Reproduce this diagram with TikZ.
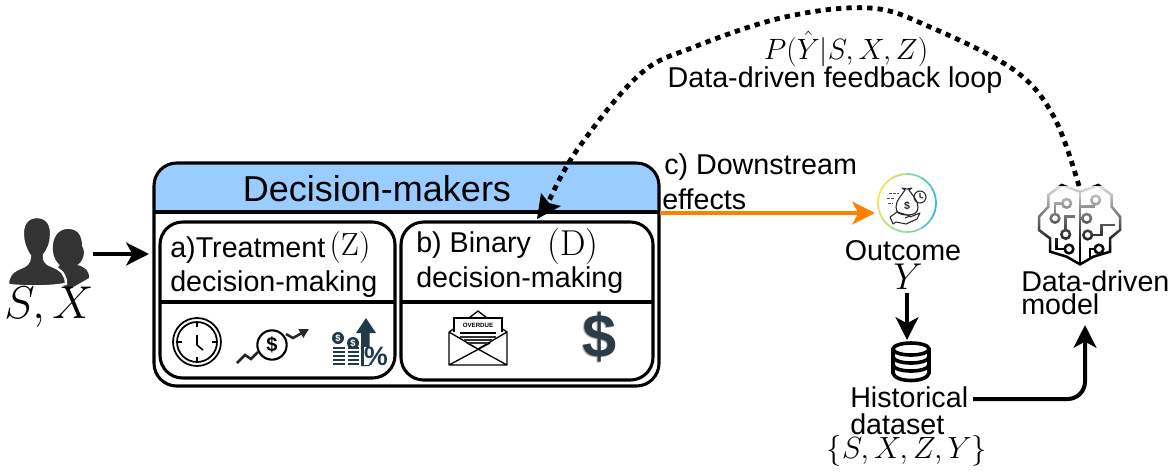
\RequirePackage{fix-cm}
\documentclass[tikz,border=0pt]{standalone}
\usepackage{fontspec}
\setmainfont{Liberation Sans}
\newfontfamily\lmrm{Latin Modern Roman}
\usetikzlibrary{arrows.meta}
\definecolor{hdr}{HTML}{99CCFF}
\definecolor{orng}{HTML}{FF8000}
\definecolor{sil}{HTML}{333333}
\definecolor{navy}{HTML}{1F3A4A}
\definecolor{dol}{HTML}{2B3C48}
\tikzset{
 x=0.75pt,y=-0.75pt,
 lbl/.style={font=\fontsize{21.5}{25}\selectfont,inner sep=0pt,text=black},
 lbll/.style={lbl,anchor=west},
 mth/.style={font=\fontsize{22}{25}\selectfont,inner sep=0pt},
 frame/.style={draw=black,line width=2.3pt,rounded corners=17pt,outer sep=0pt},
 conn/.style={draw=black,line width=3pt,-{Stealth[length=17pt,width=17pt,inset=4.5pt]}},
 icon/.style={draw=black,line width=1.2pt,line join=round},
 brainline/.style={draw=black,line width=1.9pt,line join=miter},
}
\begin{document}
\begin{tikzpicture}
\useasboundingbox (0,0) rectangle (1173,472);
% outer box
\fill[hdr,rounded corners=17pt] (154,230) -- (154,163) -- (659,163) -- (659,230) -- cycle;
\fill[white] (150,212) rectangle (663,235);
\node[frame,minimum width=378.75pt,minimum height=167.25pt,inner sep=0pt,anchor=north west] (main) at (154,163) {};
\draw[black,line width=2.3pt] (main.west |- 0,212) -- (main.east |- 0,212);
\node[lbl,font=\fontsize{27}{31}\selectfont] (title) at (377,189) {Decision-makers};
% inner boxes
\node[frame,minimum width=176.25pt,minimum height=117pt,inner sep=0pt,anchor=north west] (boxa) at (160,222) {};
\node[frame,minimum width=189pt,minimum height=118.5pt,inner sep=0pt,anchor=north west] (boxb) at (401,222) {};
\draw[black,line width=2.3pt] (boxa.west |- 0,302) -- (boxa.east |- 0,302);
\draw[black,line width=2.3pt] (boxb.west |- 0,302) -- (boxb.east |- 0,302);
\node[lbll] (ta1) at (170,250) {a)Treatment};
\node[inner sep=0pt,font=\lmrm\fontsize{24}{28}\selectfont] (tz) at (350,248) {(Z)};
\node[lbll] (ta2) at (170,284) {decision-making};
\node[lbll] (tb1) at (416,245) {b) Binary};
\node[inner sep=0pt,font=\lmrm\fontsize{27}{30}\selectfont] (td) at (573,247) {(D)};
\node[lbll] (tb2) at (416,280) {decision-making};
% people
\fill[sil] (68,229) .. controls (58,229) and (52,238) .. (53,250) .. controls (53,256) and (56,262) .. (60,265)
  .. controls (58,269) and (54,270) .. (50,272) -- (68,290) -- (89,278) .. controls (89,270) and (85,267) .. (77,265)
  .. controls (83,262) and (86,252) .. (82,246) .. controls (82,236) and (78,229) .. (68,229) -- cycle;
\fill[sil,draw=white,line width=1.8pt] (37,217) .. controls (26,217) and (22,226) .. (23,236) .. controls (23,243) and (27,252) .. (30,256)
  .. controls (30,263) and (26,266) .. (20,268) .. controls (11,272) and (8,276) .. (8,285) .. controls (25,287) and (50,287) .. (66,284)
  .. controls (66,275) and (62,270) .. (52,266) .. controls (46,264) and (43,260) .. (44,255)
  .. controls (48,250) and (51,243) .. (51,236) .. controls (52,226) and (48,217) .. (37,217) -- cycle;
\node[mth,font=\fontsize{34.5}{40}\selectfont] (sx) at (49,307) {$S,X$};
\coordinate (pa) at (93,254);
\coordinate (pb) at (149,254);
\draw[conn] (pa) -- (pb);
% clock
\node[circle,draw=black,line width=1.3pt,minimum size=36pt,inner sep=0pt] (clock) at (197,342) {};
\node[circle,draw=black,line width=1.3pt,minimum size=30pt,inner sep=0pt] (clocki) at (197,342) {};
\draw[icon] (197,335) -- (197,345) -- (203,350);
\draw[icon] (197,322) -- (197,327) (197,357) -- (197,362) (177,342) -- (182,342) (212,342) -- (217,342);
% growth
\node[circle,draw=black,line width=1.6pt,minimum size=22pt,inner sep=0pt,font=\bfseries\fontsize{15}{15}\selectfont] (grow) at (272,345) {\$};
\draw[black!85,line width=1.9pt] (237,363) -- (245,355) -- (251,359) -- (258,352);
\draw[black!85,line width=1.9pt,-{Stealth[length=7pt,width=7pt,inset=0pt]}] (286,334) -- (293,338) -- (309,329);
% stacks
\fill[navy] (366,318) -- (376,333) -- (369.5,333) -- (369.5,366) -- (361,366) -- (361,333) -- (356,333) -- cycle;
\foreach \yy in {347,351,355,359,363}{
 \fill[navy] (333,\yy) rectangle (345,\yy+2.4);
 \fill[navy] (348,\yy) rectangle (359,\yy+2.4);
}
\fill[navy] (338,338) circle (6);
\fill[navy] (353,343) circle (6);
\node[text=white,inner sep=0pt,font=\bfseries\fontsize{7}{7}\selectfont] (d1) at (338,338) {\$};
\node[text=white,inner sep=0pt,font=\bfseries\fontsize{7}{7}\selectfont] (d2) at (353,343) {\$};
\node[text=navy,fill=white,inner sep=0pt,font=\bfseries\fontsize{20}{20}\selectfont] (pct) at (376,356) {\%};
% envelope
\draw[black,line width=1pt,line join=round] (449,332) -- (449,365) -- (507,365) -- (507,332) -- (501,328) (449,332) -- (455,328)
 (449,365) -- (490,343) (507,365) -- (467,343) (449,332) -- (478,349) -- (507,332);
\draw[black,line width=1pt,line join=round] (469,318) -- (478,311) -- (487,318);
\filldraw[fill=white,draw=none] (454,318) -- (502,318) -- (502,332) -- (478,347) -- (454,332) -- cycle;
\draw[black,line width=1pt] (454,332) -- (454,318) -- (502,318) -- (502,332);
\draw[black,line width=1.3pt] (460,333) -- (496,333);
\foreach \yy/\hw in {337/18,340/14,343/10}{\draw[black!80,line width=.8pt] (478-\hw,\yy) -- (478+\hw,\yy);}
\node[inner sep=0pt,font=\bfseries\fontsize{4.6}{5}\selectfont] (ov) at (478,325) {OVERDUE};
\node[inner sep=0pt,text=black!30,font=\bfseries\fontsize{46}{46}\selectfont] (dols) at (599,338) {\$};
\node[inner sep=0pt,text=dol,font=\bfseries\fontsize{46}{46}\selectfont] (dolm) at (600,337) {\$};
% outcome circle
\node[circle,minimum size=44pt,inner sep=0pt] (oc) at (907,203) {};
\foreach \a/\c in {0/35B5E5,30/55C0C8,60/8CCFB0,90/A5D6A0,120/C0DC80,150/E0E560,180/F5E84A,210/E8E560,240/BEDD80,270/8CD0A5,300/60C5C0,330/40B8DC}{
 \definecolor{ringc}{HTML}{\c}
 \draw[ringc,line width=1.3pt] (907,203) ++(\a:29) arc[start angle=\a,delta angle=31,radius=29];
}
% money-bag icon
\draw[black!85,line width=.8pt,line join=round,fill=white]
 (905,190) .. controls (902,195) and (896,200) .. (896,207) .. controls (896,213) and (900,215) .. (907,215)
 .. controls (914,215) and (918,213) .. (918,207) .. controls (918,200) and (912,195) .. (909,190) -- (912,188) -- (907,189) -- (902,188) -- cycle;
\draw[black!85,line width=.8pt] (920,197) circle (6) (920,193) -- (920,197) -- (923,198);
\node[inner sep=0pt,font=\bfseries\fontsize{8}{8}\selectfont,text=black!85] (bagd) at (907,206) {\$};
\draw[black!85,line width=.8pt,line join=round] (890,217) -- (897,212) -- (904,214) -- (910,216) -- (905,218) (910,217) -- (920,213) -- (917,219) -- (906,224) -- (896,222) -- (893,224) -- (890,217);
\draw[black!70,line width=.7pt,dash pattern=on 2pt off 1pt] (889,193) -- (899,193) (887,198) -- (895,198) (888,203) -- (893,203);
\node[lbl] (out) at (903,251) {Outcome};
\node[mth,font=\fontsize{28}{30}\selectfont] (yy) at (908,277) {$Y$};
\coordinate (ya) at (907,293);
\coordinate (yb) at (907,340);
\draw[conn] (ya) -- (yb);
% database
\node[inner sep=0pt,minimum width=29pt,minimum height=30pt] (db) at (911,362) {};
\draw[black,line width=2.7pt,line cap=round] (893,349) -- (893,373) (929,349) -- (929,373);
\draw[black,line width=2.7pt] (911,349) ellipse (18 and 6);
\draw[black,line width=2.7pt] (893,357) .. controls (895,365) and (927,365) .. (929,357);
\draw[black,line width=2.7pt] (893,365) .. controls (895,373) and (927,373) .. (929,365);
\draw[black,line width=2.7pt] (893,373) .. controls (895,383) and (927,383) .. (929,373);
\node[lbll] (hist) at (850,397) {Historical};
\node[lbll] (dset) at (850,424) {dataset};
\node[mth,font=\fontsize{23}{26}\selectfont] (setn) at (907,451) {$\{S,X,Z,Y\}$};
% brain
\node[inner sep=0pt,minimum width=60pt,minimum height=59pt] (brain) at (1080,226) {};
\begin{scope}[shift={(1025,175)},x=0.25pt,y=-0.25pt]
\draw[brainline,line width=1.9pt] (165,50) -- (110,30) -- (70,60) -- (70,95) -- (42,125) -- (42,165) -- (75,190) -- (75,230) -- (125,245) -- (165,268) -- (205,245) -- (255,230) -- (255,190) -- (285,165) -- (285,125) -- (260,95) -- (260,60) -- (220,30) -- (165,50) -- cycle;
\draw[brainline] (165,50) -- (165,268);
\draw[brainline] (90,130) -- (90,85) -- (122,85);
\draw[brainline,fill=white] (125,85) circle (13);
\draw[brainline,fill=white] (90,130) circle (13);
\draw[brainline] (122,165) -- (122,125) -- (150,125);
\draw[brainline,fill=white] (122,178) circle (13);
\draw[brainline] (95,190) -- (95,222) -- (122,222);
\draw[brainline,fill=white] (132,222) circle (13);
\draw[brainline] (165,95) -- (210,95);
\draw[brainline,fill=white] (212,75) circle (13);
\draw[brainline] (165,130) -- (175,130);
\draw[brainline,fill=white] (185,130) circle (13);
\draw[brainline] (200,180) -- (230,180) -- (230,150) -- (270,150);
\draw[brainline,fill=white] (188,180) circle (13);
\draw[brainline] (195,250) -- (195,222) -- (210,222);
\draw[brainline,fill=white] (222,222) circle (13);
\end{scope}
\foreach \i in {0,...,25}{
  \pgfmathsetmacro{\op}{max(0,0.85-\i*0.034)}
  \fill[white,opacity=\op] (1034,186+2.5*\i) rectangle (1124,188.5+2.5*\i);
}
\node[lbll] (dd1) at (1021,281) {Data-driven};
\node[lbll] (dd2) at (1021,304) {model};
% connectors
\coordinate (ha) at (973,399);
\coordinate (hc) at (1085,399);
\coordinate (hb) at (1085,325);
\draw[conn,rounded corners=13pt] (ha) -- (hc) -- (hb);
\coordinate (oa) at (660,213);
\coordinate (ob) at (875,213);
\draw[conn,draw=orng,color=orng] (oa) -- (ob);
\node[lbll] (c1) at (664,167) {c) Downstream};
\node[lbll] (c2) at (662,199) {effects};
\coordinate (lp) at (537,219);
\coordinate (ls) at (1079,186);
\draw[black,line width=3.6pt,dash pattern=on 4pt off 3.8pt] plot[smooth,tension=.6] coordinates {(ls) (1054,117) (1014,70) (930,27) (870,8) (785,17) (694,47) (639,75) (577,150) (548,203)};
\fill[black] (lp) -- (541,193) -- (549,203) -- (561,206) -- cycle;
\node[mth] (prob) at (846,49) {$P(\hat{Y}|S,X,Z)$};
\node[lbl] (fb) at (835,80) {Data-driven feedback loop};
\end{tikzpicture}
\end{document}
